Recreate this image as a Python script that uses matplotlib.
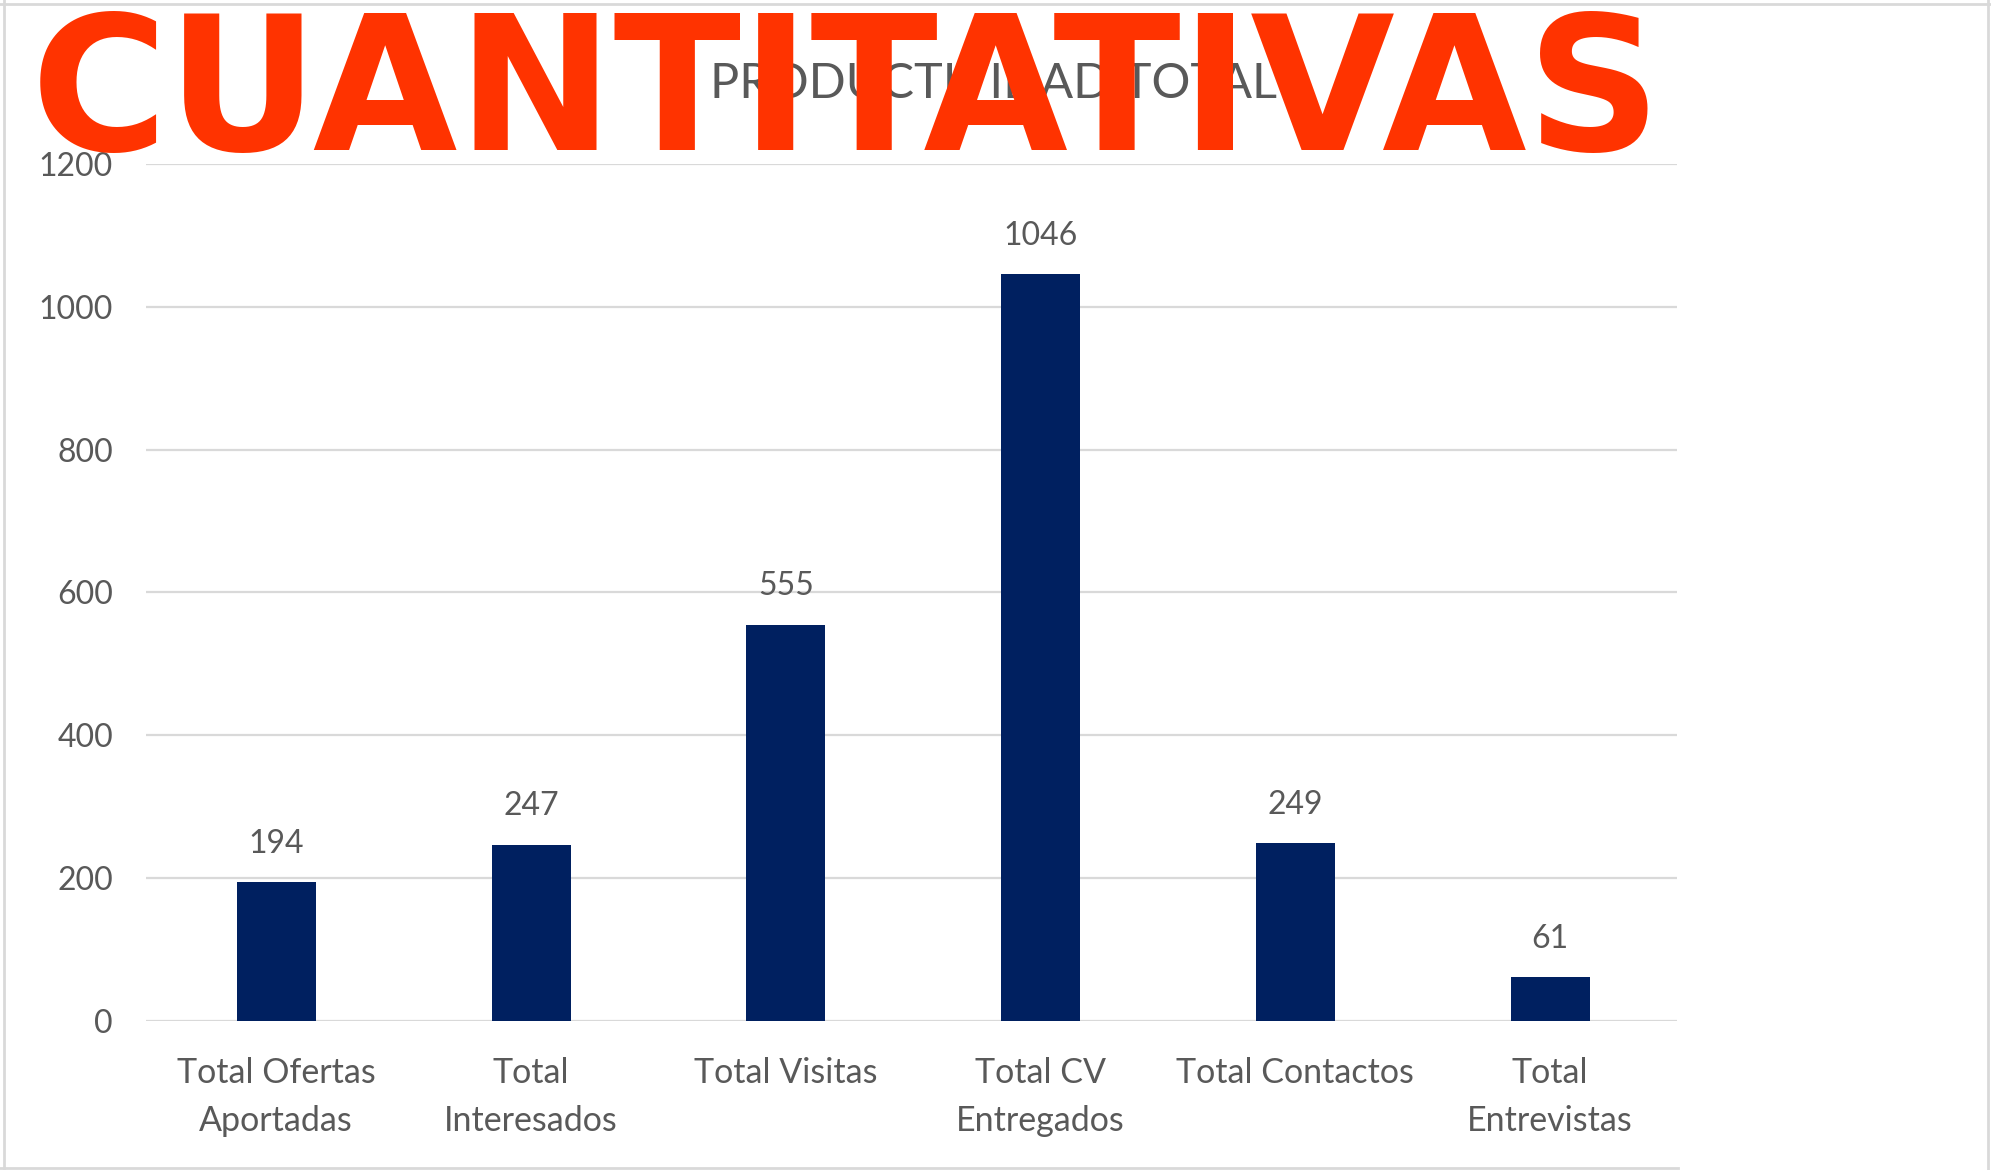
import matplotlib.pyplot as plt
from matplotlib.lines import Line2D

# Datos del grafico
categorias = ['Total Ofertas\nAportadas', 'Total\nInteresados', 'Total Visitas',
              'Total CV\nEntregados', 'Total Contactos', 'Total\nEntrevistas']
valores = [194, 247, 555, 1046, 249, 61]
ticks_y = [0, 200, 400, 600, 800, 1000, 1200]

gris = '#595959'
azul = '#002060'

fig = plt.figure(figsize=(19.91, 11.70), dpi=100)
ax = fig.add_axes([0.0735, 0.1274, 0.769, 0.7324])

x = range(len(valores))
ax.bar(x, valores, width=0.31, color=azul, zorder=3)

ax.set_xlim(-0.51, len(valores) - 0.5)
ax.set_ylim(0, 1200)
ax.set_yticks(ticks_y)
ax.set_yticklabels([str(t) for t in ticks_y], fontfamily='Lato', fontsize=23, color=gris)
ax.set_xticks(list(x))
ax.set_xticklabels(categorias, fontfamily='Lato', fontsize=24.5, color=gris, linespacing=1.6)
ax.tick_params(axis='y', length=0, pad=24)
ax.tick_params(axis='x', length=0, pad=26)
ax.grid(axis='y', color='#d9d9d9', linewidth=1.6, zorder=0)
for s in ax.spines.values():
    s.set_visible(False)

# Etiquetas de datos
for i, v in enumerate(valores):
    ax.annotate(str(v), (i, v), xytext=(0, 21), textcoords='offset points',
                ha='center', va='baseline', fontfamily='Lato', fontsize=23, color=gris)

# Titulo del grafico (tapado por el texto rojo)
fig.text(710 / 1991, 1 - 98 / 1170, 'PRODUCTIVIDAD TOTAL', ha='left', va='baseline',
         fontfamily='Lato', fontsize=35, color=gris, zorder=2)

# Texto grande
fig.text(31 / 1991, 1 - 150 / 1170, 'CUANTITATIVAS', ha='left', va='baseline',
         fontfamily='DejaVu Sans', fontweight='bold', fontsize=134.5, color='#ff3300', zorder=10)

# Bordes
borde = '#d9d9d9'
fig.add_artist(Line2D([0, 1], [1 - 4 / 1170] * 2, transform=fig.transFigure, color=borde, lw=2))
fig.add_artist(Line2D([4 / 1991] * 2, [0, 1], transform=fig.transFigure, color=borde, lw=2))
fig.add_artist(Line2D([1988 / 1991] * 2, [0, 1], transform=fig.transFigure, color=borde, lw=2))
fig.add_artist(Line2D([0, 1678 / 1991], [2 / 1170] * 2, transform=fig.transFigure, color=borde, lw=2))

fig.savefig('out.png', dpi=100)
